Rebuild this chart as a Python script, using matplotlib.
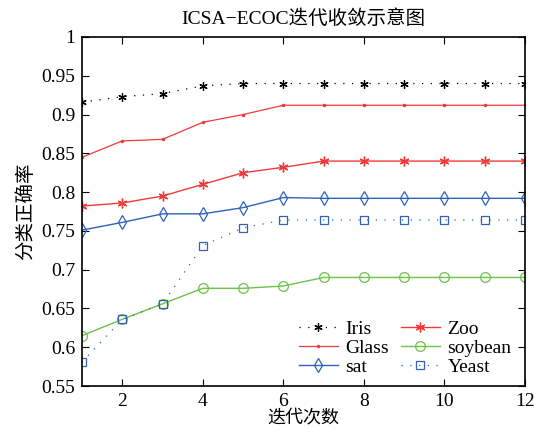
import matplotlib
matplotlib.use('Agg')
import matplotlib.pyplot as plt

plt.rcParams['font.family'] = ['Liberation Serif', 'Noto Sans CJK SC']
plt.rcParams['axes.unicode_minus'] = False

# iteration counts
iters = list(range(1, 13))

# accuracy per dataset
iris = [0.916, 0.923, 0.927, 0.937, 0.940, 0.940, 0.940, 0.940, 0.940, 0.940, 0.940, 0.940]
glass = [0.845, 0.866, 0.868, 0.890, 0.900, 0.912, 0.912, 0.912, 0.912, 0.912, 0.912, 0.912]
zoo = [0.782, 0.786, 0.795, 0.810, 0.825, 0.832, 0.840, 0.840, 0.840, 0.840, 0.840, 0.840]
sat = [0.751, 0.761, 0.772, 0.772, 0.780, 0.793, 0.792, 0.792, 0.792, 0.792, 0.792, 0.792]
soybean = [0.615, 0.636, 0.656, 0.676, 0.676, 0.679, 0.690, 0.690, 0.690, 0.690, 0.690, 0.690]
yeast = [0.581, 0.636, 0.656, 0.731, 0.754, 0.764, 0.764, 0.764, 0.764, 0.764, 0.764, 0.764]

red = '#f03a3a'
green = '#6cc24a'
blue = '#2f62b8'

fig = plt.figure(figsize=(5.34, 4.28), dpi=100)
ax = fig.add_axes([0.1536, 0.098, 0.8294, 0.8156])

ax.plot(iters, iris, color='black', linestyle=(0, (1, 6)), linewidth=0.9,
        marker=(6, 2, 0), markersize=6, markeredgewidth=0.9, label='Iris')
ax.plot(iters, glass, color=red, linewidth=0.9, marker='.', markersize=3, label='Glass')
ax.plot(iters, sat, color=blue, linewidth=1.0, marker='d', markersize=7,
        markerfacecolor='none', markeredgewidth=0.9, label='sat')
ax.plot(iters, zoo, color=red, linewidth=1.0, marker=(6, 2, 0), markersize=7,
        markeredgewidth=1.0, label='Zoo')
ax.plot(iters, soybean, color=green, linewidth=1.0, marker='o', markersize=7,
        markerfacecolor='none', markeredgewidth=0.9, label='soybean')
ax.plot(iters, yeast, color=blue, linestyle=(0, (1, 6)), linewidth=0.9, marker='s',
        markersize=6, markerfacecolor='none', markeredgewidth=0.9, label='Yeast')

ax.set_xlim(1, 12)
ax.set_ylim(0.55, 1.0)
ax.set_xticks([2, 4, 6, 8, 10, 12])
ax.set_yticks([0.55, 0.6, 0.65, 0.7, 0.75, 0.8, 0.85, 0.9, 0.95, 1.0])
ax.set_yticklabels(['0.55', '0.6', '0.65', '0.7', '0.75', '0.8', '0.85', '0.9', '0.95', '1'])
ax.tick_params(direction='in', top=True, right=True, labelsize=14, length=5, pad=5)
for s in ax.spines.values():
    s.set_linewidth(1.2)

ax.set_title('ICSA\u2212ECOC迭代收敛示意图', fontsize=14,
             family=['Liberation Serif', 'Noto Sans CJK SC'], pad=9)
ax.set_xlabel('迭代次数', fontsize=13, family=['Noto Sans CJK SC'], labelpad=-1)
ax.set_ylabel('分类正确率', fontsize=14, family=['Noto Sans CJK SC'], labelpad=4)

ax.legend(loc='lower right', ncol=2, frameon=False, fontsize=14,
          handlelength=2.0, columnspacing=0.6, labelspacing=0.08,
          handletextpad=0.4, borderaxespad=0.3, bbox_to_anchor=(1.0, -0.01))

fig.savefig('out.png', dpi=100)
